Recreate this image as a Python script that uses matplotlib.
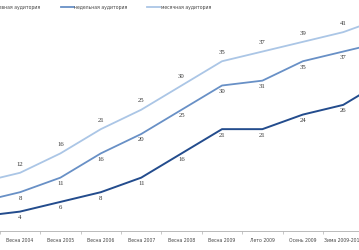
import matplotlib
matplotlib.use("Agg")
from matplotlib import pyplot as plt
import numpy as np

# periods (first and last are partly outside the cropped picture)
periods = ["Весна 2003", "Весна 2004", "Весна 2005", "Весна 2006", "Весна 2007",
           "Весна 2008", "Весна 2009", "Лето 2009", "Осень 2009", "Зима 2009-2010",
           "Весна 2010"]
daily = [3, 4, 6, 8, 11, 16, 21, 21, 24, 26, 31]
weekly = [6, 8, 11, 16, 20, 25, 30, 31, 35, 37, 39]
monthly = [10, 12, 16, 21, 25, 30, 35, 37, 39, 41, 44]
shown = range(1, len(periods) - 1)

C_DAILY = "#234c8d"
C_WEEKLY = "#6890c6"
C_MONTHLY = "#abc6e6"

W, H = 359, 250
fig = plt.figure(figsize=(W / 100, H / 100), dpi=100)

# axes wider than the figure: the picture is a crop of a bigger chart
step = 40.4
x_first = 20.0
left_px = x_first - 1.5 * step
width_px = 11 * step
bottom_px = 19.0
height_px = 46 * 4.85
ax = fig.add_axes([left_px / W, bottom_px / H, width_px / W, height_px / H])

x = np.arange(len(periods))
ax.plot(x, monthly, color=C_MONTHLY, lw=1.3, label="месячная аудитория", zorder=3)
ax.plot(x, weekly, color=C_WEEKLY, lw=1.3, label="недельная аудитория", zorder=3)
ax.plot(x, daily, color=C_DAILY, lw=1.4, label="ежедневная аудитория", zorder=3)

num_font = dict(fontsize=4.9, color="#333333", family=["Liberation Serif", "DejaVu Serif"],
                ha="center")
for i in shown:
    ax.annotate(str(monthly[i]), (x[i], monthly[i]), xytext=(0, 4.5),
                textcoords="offset points", va="bottom", **num_font)
    ax.annotate(str(weekly[i]), (x[i], weekly[i]), xytext=(0, -2.5),
                textcoords="offset points", va="top", **num_font)
    ax.annotate(str(daily[i]), (x[i], daily[i]), xytext=(0, -2.5),
                textcoords="offset points", va="top", **num_font)

ax.set_xlim(-0.5, len(periods) - 0.5)
ax.set_ylim(0, 46)
for s in ["top", "right", "left"]:
    ax.spines[s].set_visible(False)
ax.spines["bottom"].set_color("#b0b0b0")
ax.spines["bottom"].set_linewidth(0.6)
ax.set_yticks([])
ax.set_xticks(x)
ticklabels = [p if i in shown else "" for i, p in enumerate(periods)]
ax.set_xticklabels(ticklabels, fontsize=3.7, color="#444444",
                   family="DejaVu Sans", fontstretch="condensed")
ax.tick_params(axis="x", which="major", length=0, pad=5)
ax.set_xticks(x[:-1] + 0.5, minor=True)
ax.tick_params(axis="x", which="minor", length=2.5, width=0.5, color="#b0b0b0")

handles, labels = ax.get_legend_handles_labels()
order = [2, 1, 0]
leg = fig.legend([handles[i] for i in order], [labels[i] for i in order],
                 loc="upper left", bbox_to_anchor=(-30 / W, 1 - 4.5 / H), ncol=3,
                 frameon=False, handlelength=2.5, handletextpad=0.1,
                 columnspacing=3.9, borderaxespad=0, borderpad=0,
                 prop={"family": "DejaVu Sans", "stretch": "condensed", "size": 3.7})
for t in leg.get_texts():
    t.set_color("#444444")

fig.savefig("out.png", dpi=100)
